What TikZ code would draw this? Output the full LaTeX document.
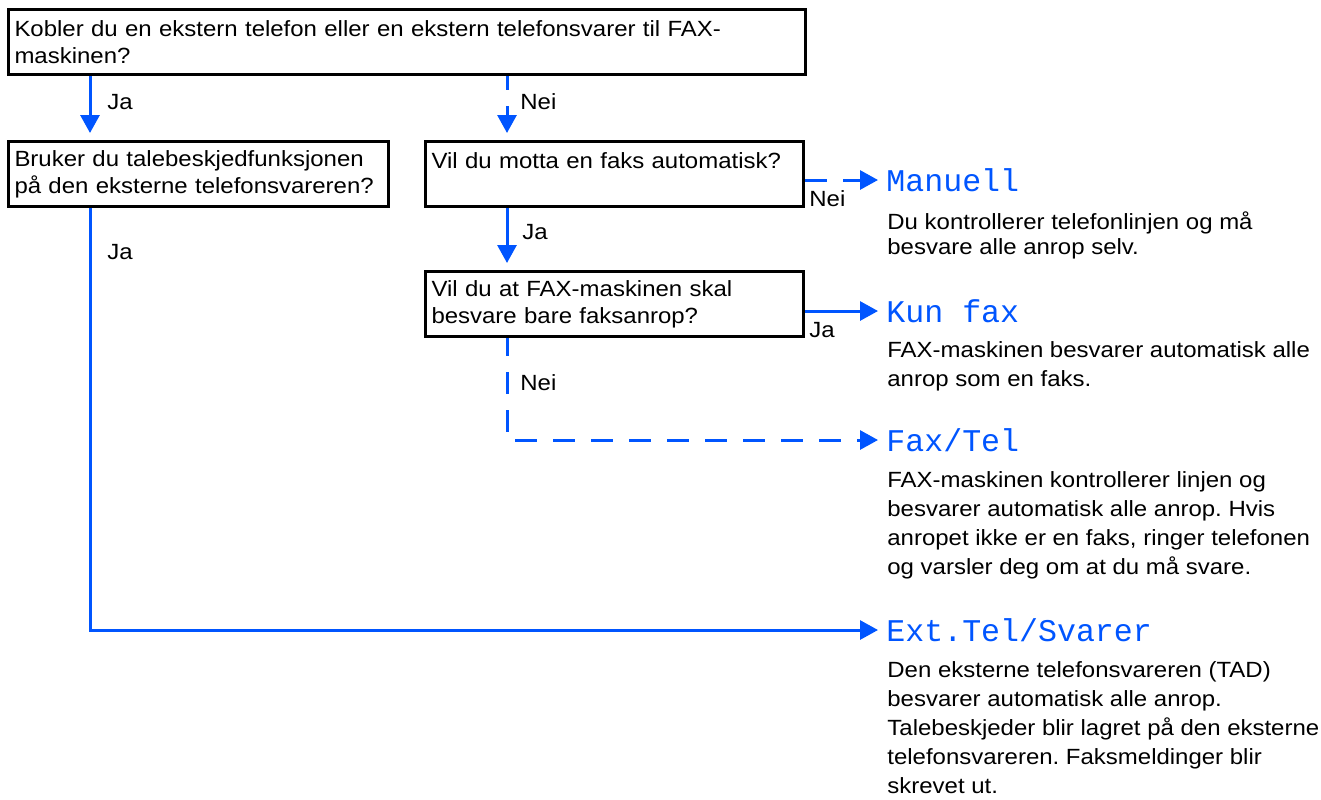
\documentclass[tikz,border=0pt]{standalone}
\usepackage{fontspec}
\setmainfont[FakeStretch=1.09]{Liberation Sans}
\newfontfamily\lcdfont{Liberation Mono}
\usepackage{xcolor}
\usetikzlibrary{arrows.meta,positioning,calc}
\definecolor{faxblue}{RGB}{0,85,255}
\frenchspacing

\begin{document}
\begin{tikzpicture}[x=0.5pt,y=-0.5pt,font=\fontsize{11}{13.5}\selectfont,
  qbox/.style={draw,line width=1.5pt,anchor=north west,inner xsep=3pt,inner ysep=0pt,align=left,minimum height=32.5pt},
  mode/.style={anchor=west,inner xsep=4pt,inner ysep=0pt,text depth=0pt,text=faxblue,font=\lcdfont\fontsize{15.8}{16}\selectfont},
  desc/.style={anchor=north west,inner sep=0pt,align=left},
  lab/.style={anchor=west,inner sep=0pt},
  yes/.style={faxblue,line width=1.5pt,-{Triangle[length=9pt,width=9.5pt]}},
  no/.style={yes,dash pattern=on 11pt off 8pt}]
\useasboundingbox (0,0) rectangle (1321,799);
\coordinate (colA) at (90,0);
\coordinate (colB) at (507,0);
\node[qbox,text width=392.5pt] (q1) at (7,8) {Kobler du en ekstern telefon eller en ekstern telefonsvarer til FAX-\\maskinen?};
\node[qbox,text width=184pt] (q2) at (7,140) {Bruker du talebeskjedfunksjonen\\på den eksterne telefonsvareren?};
\node[qbox,text width=183pt] (q3) at (424,140) {Vil du motta en faks automatisk?\\\mbox{}};
\node[qbox,text width=183pt] (q4) at (424,270) {Vil du at FAX-maskinen skal\\besvare bare faksanrop?};
\node[mode] (manuell) at (878,180) {Manuell};
\node[mode] (kunfax) at (878,311) {Kun fax};
\node[mode] (faxtel) at (878,440) {Fax/Tel};
\node[mode] (exttel) at (878,630) {Ext.Tel/Svarer};
\node[desc,font=\fontsize{11}{12.5}\selectfont] (dmanuell) at (887,211) {Du kontrollerer telefonlinjen og må\\besvare alle anrop selv.};
\node[desc,font=\fontsize{11}{14.5}\selectfont] (dkunfax) at (887,341) {FAX-maskinen besvarer automatisk alle\\anrop som en faks.};
\node[desc,font=\fontsize{11}{14.5}\selectfont] (dfaxtel) at (887,471) {FAX-maskinen kontrollerer linjen og\\besvarer automatisk alle anrop. Hvis\\anropet ikke er en faks, ringer telefonen\\og varsler deg om at du må svare.};
\node[desc,font=\fontsize{11}{14.5}\selectfont] (dexttel) at (887,661) {Den eksterne telefonsvareren (TAD)\\besvarer automatisk alle anrop.\\Talebeskjeder blir lagret på den eksterne\\telefonsvareren. Faksmeldinger blir\\skrevet ut.};
\draw[yes,shorten >=3.5pt] (q1.south -| colA) -- (q2.north -| colA);
\draw[no,shorten >=3.5pt,dash phase=4pt] (q1.south -| colB) -- (q3.north -| colB);
\draw[no] (q3.east |- manuell.west) -- (manuell.west);
\draw[yes,shorten >=3.5pt] (q3.south -| colB) -- (q4.north -| colB);
\draw[yes] (q4.east |- kunfax.west) -- (kunfax.west);
\draw[no,dash phase=2pt] (q4.south -| colB) |- (faxtel.west);
\draw[yes] (q2.south -| colA) |- (exttel.west);
\node[lab] (ja1) at (107,102) {Ja};
\node[lab] (nei1) at (520,102) {Nei};
\node[lab] (nei2) at (809,199) {Nei};
\node[lab] (ja2) at (522,232) {Ja};
\node[lab] (ja3) at (107,252) {Ja};
\node[lab] (ja4) at (809,330) {Ja};
\node[lab] (nei3) at (520,383) {Nei};
\end{tikzpicture}
\end{document}
